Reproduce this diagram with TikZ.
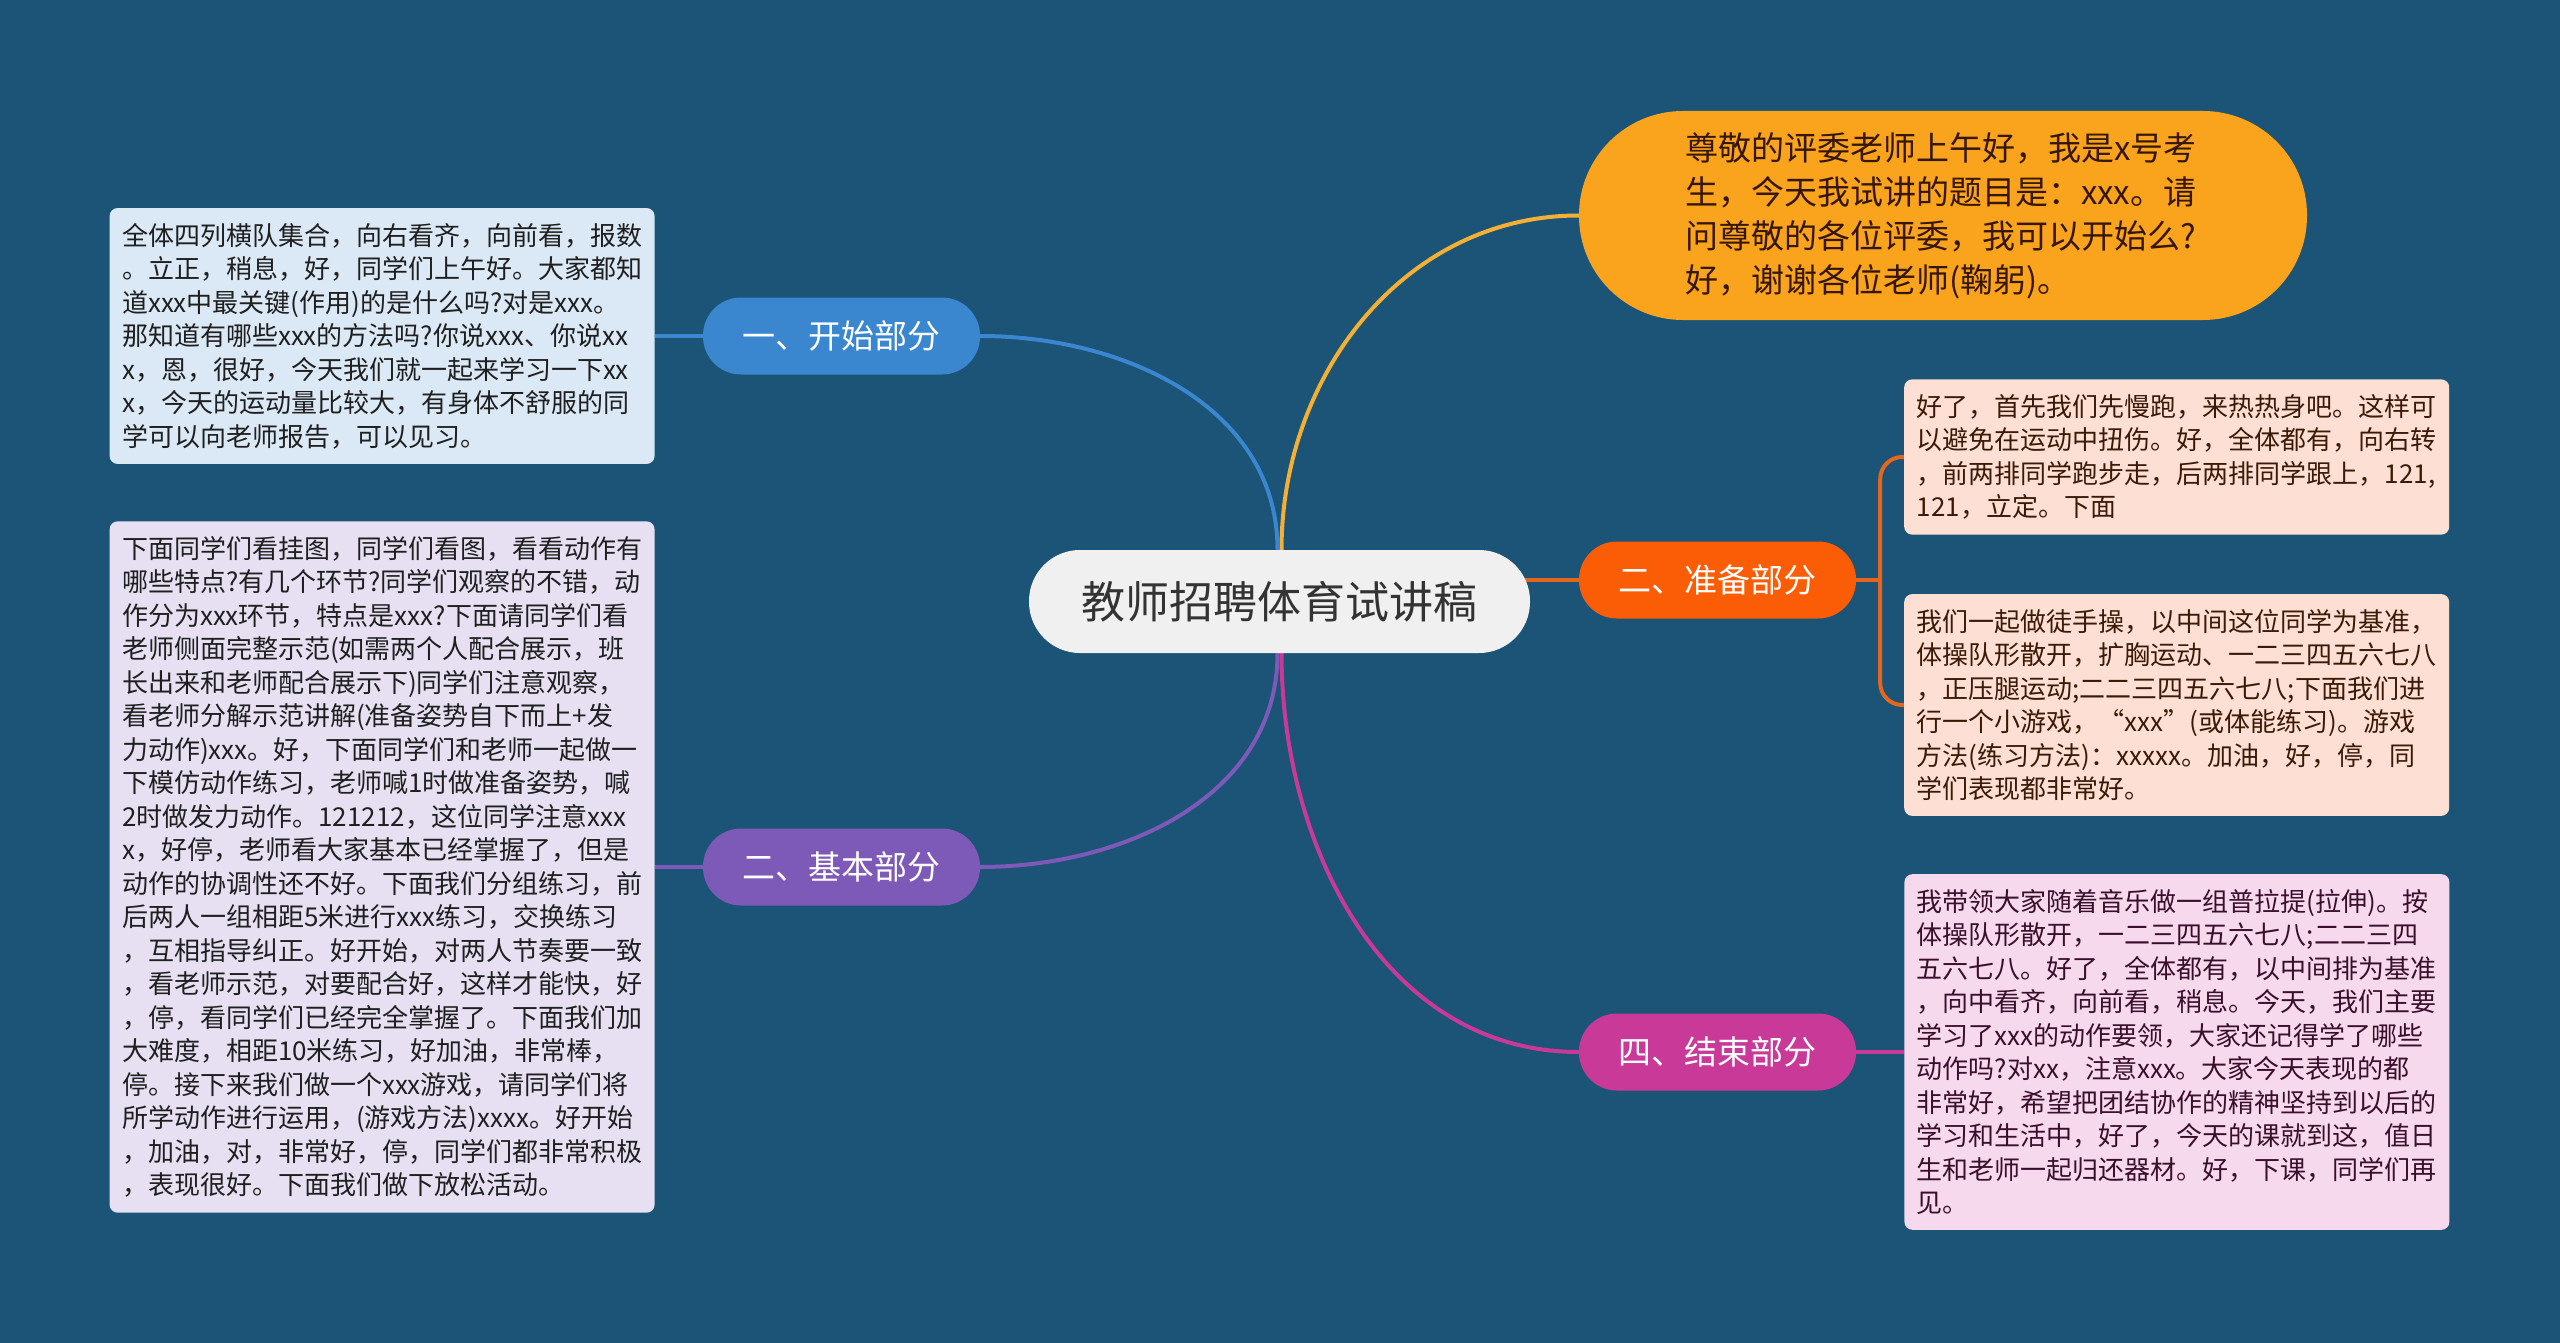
\documentclass[tikz,border=0pt]{standalone}
\usepackage{fontspec}
\setmainfont{Noto Sans CJK SC}
\usepackage{tikz}
\usetikzlibrary{positioning, backgrounds}
\definecolor{MapBg}{RGB}{27, 84, 118}
\definecolor{MapRoot}{RGB}{240, 240, 240}
\definecolor{MapBlue}{RGB}{58, 134, 207}
\definecolor{MapPurple}{RGB}{125, 90, 183}
\definecolor{MapAmber}{RGB}{250, 163, 28}
\definecolor{MapAmberLine}{RGB}{243, 176, 52}
\definecolor{MapOrange}{RGB}{251, 93, 6}
\definecolor{MapOrangeLine}{RGB}{230, 102, 30}
\definecolor{MapMagenta}{RGB}{200, 57, 152}
\definecolor{BoxBlue}{RGB}{219, 233, 246}
\definecolor{BoxLilac}{RGB}{230, 224, 242}
\definecolor{BoxPeach}{RGB}{253, 224, 211}
\definecolor{BoxPink}{RGB}{246, 217, 236}
\definecolor{InkBrown}{RGB}{60, 26, 8}
\definecolor{InkPlum}{RGB}{58, 15, 44}

\tikzset{
  rootnode/.style={fill=MapRoot, rounded corners=51pt, minimum width=501pt, minimum height=103pt,
    text=black!80, font=\fontsize{44}{50}\selectfont},
  branchnode/.style={rounded corners=38pt, minimum width=277pt, minimum height=77pt,
    text=white, font=\fontsize{33}{38}\selectfont},
  notebox/.style={rounded corners=8pt, text width=520pt, align=left, inner xsep=12.5pt,
    inner ysep=15pt, text=black!88, font=\fontsize{26}{33.5}\selectfont},
  link/.style={line width=4pt},
}

\begin{document}
\begin{tikzpicture}[x=1pt, y=-1pt]
  \useasboundingbox (0,0) rectangle (2560,1343);

  % centre and branches
  \node[rootnode] (root) at (1279.5,601.5) {教师招聘体育试讲稿};
  \node[branchnode, fill=MapBlue] (kaishi) at (841.5,336) {一、开始部分};
  \node[branchnode, fill=MapPurple] (jiben) at (841.5,867) {二、基本部分};
  \node[branchnode, fill=MapOrange] (zhunbei) at (1717.5,580) {二、准备部分};
  \node[branchnode, fill=MapMagenta] (jieshu) at (1717.5,1052) {四、结束部分};
  \node[fill=MapAmber, rounded corners=104pt, minimum width=728pt, minimum height=209pt,
        text width=516pt, align=left, text=InkBrown!90!black, font=\fontsize{33}{44}\selectfont]
        (kaichang) at (1943,215.5) {
    尊敬的评委老师上午好，我是x号考\\
    生，今天我试讲的题目是：xxx。请\\
    问尊敬的各位评委，我可以开始么?\\
    好，谢谢各位老师(鞠躬)。};

  % notes
  \node[notebox, fill=BoxBlue, left=48pt of kaishi] (kaishiNote) {
    全体四列横队集合，向右看齐，向前看，报数\\
    。立正，稍息，好，同学们上午好。大家都知\\
    道xxx中最关键(作用)的是什么吗?对是xxx。\\
    那知道有哪些xxx的方法吗?你说xxx、你说xx\\
    x，恩，很好，今天我们就一起来学习一下xx\\
    x，今天的运动量比较大，有身体不舒服的同\\
    学可以向老师报告，可以见习。};
  \node[notebox, fill=BoxLilac, left=48pt of jiben] (jibenNote) {
    下面同学们看挂图，同学们看图，看看动作有\\
    哪些特点?有几个环节?同学们观察的不错，动\\
    作分为xxx环节，特点是xxx?下面请同学们看\\
    老师侧面完整示范(如需两个人配合展示，班\\
    长出来和老师配合展示下)同学们注意观察，\\
    看老师分解示范讲解(准备姿势自下而上+发\\
    力动作)xxx。好，下面同学们和老师一起做一\\
    下模仿动作练习，老师喊1时做准备姿势，喊\\
    2时做发力动作。121212，这位同学注意xxx\\
    x，好停，老师看大家基本已经掌握了，但是\\
    动作的协调性还不好。下面我们分组练习，前\\
    后两人一组相距5米进行xxx练习，交换练习\\
    ，互相指导纠正。好开始，对两人节奏要一致\\
    ，看老师示范，对要配合好，这样才能快，好\\
    ，停，看同学们已经完全掌握了。下面我们加\\
    大难度，相距10米练习，好加油，非常棒，\\
    停。接下来我们做一个xxx游戏，请同学们将\\
    所学动作进行运用，(游戏方法)xxxx。好开始\\
    ，加油，对，非常好，停，同学们都非常积极\\
    ，表现很好。下面我们做下放松活动。};
  \node[notebox, fill=BoxPeach, text=InkBrown, anchor=west] (zhunbeiNoteA) at (1904,457) {
    好了，首先我们先慢跑，来热热身吧。这样可\\
    以避免在运动中扭伤。好，全体都有，向右转\\
    ，前两排同学跑步走，后两排同学跟上，121,\\
    121，立定。下面};
  \node[notebox, fill=BoxPeach, text=InkBrown, anchor=west] (zhunbeiNoteB) at (1904,705) {
    我们一起做徒手操，以中间这位同学为基准，\\
    体操队形散开，扩胸运动、一二三四五六七八\\
    ，正压腿运动;二二三四五六七八;下面我们进\\
    行一个小游戏，“xxx”(或体能练习)。游戏\\
    方法(练习方法)：xxxxx。加油，好，停，同\\
    学们表现都非常好。};
  \node[notebox, fill=BoxPink, text=InkPlum, right=48pt of jieshu] (jieshuNote) {
    我带领大家随着音乐做一组普拉提(拉伸)。按\\
    体操队形散开，一二三四五六七八;二二三四\\
    五六七八。好了，全体都有，以中间排为基准\\
    ，向中看齐，向前看，稍息。今天，我们主要\\
    学习了xxx的动作要领，大家还记得学了哪些\\
    动作吗?对xx，注意xxx。大家今天表现的都\\
    非常好，希望把团结协作的精神坚持到以后的\\
    学习和生活中，好了，今天的课就到这，值日\\
    生和老师一起归还器材。好，下课，同学们再\\
    见。};

  \coordinate[right=24pt of zhunbei] (zhunbeiFork);

  % connectors
  \begin{scope}[on background layer]
    \fill[MapBg] (0,0) rectangle (2560,1343);
    \draw[link, MapBlue] ([xshift=-2pt]root.north) to[out=90, in=0] (kaishi.east);
    \draw[link, MapAmberLine] ([xshift=2pt]root.north) to[out=90, in=180] (kaichang.west);
    \draw[link, MapPurple] ([xshift=-2pt]root.south) to[out=-90, in=0] (jiben.east);
    \draw[link, MapMagenta] ([xshift=2pt]root.south) to[out=-90, in=180] (jieshu.west);
    \draw[link, MapOrangeLine] (root |- zhunbei) -- (zhunbei.west);
    \draw[link, MapBlue] (kaishi.west) -- (kaishiNote.east);
    \draw[link, MapPurple] (jiben.west) -- (jibenNote.east);
    \draw[link, MapMagenta] (jieshu.east) -- (jieshuNote.west);
    \draw[link, MapOrangeLine] (zhunbei.east) -- (zhunbeiFork);
    \draw[link, MapOrangeLine, rounded corners=22pt]
      (zhunbeiNoteA.west) -| (zhunbeiFork) |- (zhunbeiNoteB.west);
  \end{scope}
\end{tikzpicture}
\end{document}
